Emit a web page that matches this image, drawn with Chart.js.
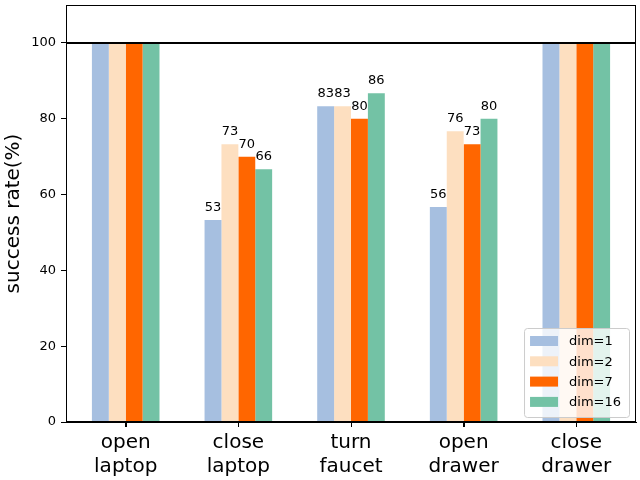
<!DOCTYPE html>
<html>
<head>
<meta charset="utf-8">
<script src="https://cdn.jsdelivr.net/npm/chart.js@4"></script>
<style>
  body { margin: 0; background: #fff; }
  canvas { display: block; }
</style>
</head>
<body>
<canvas id="rateChart" width="640" height="480"></canvas>
<script>
const categories = ['open laptop', 'close laptop', 'turn faucet', 'open drawer', 'close drawer'];
const seriesNames = ['dim=1', 'dim=2', 'dim=7', 'dim=16'];
const dim1 = [100, 53.3, 83.3, 56.7, 100];
const dim2 = [100, 73.3, 83.3, 76.7, 100];
const dim7 = [100, 70.0, 80.0, 73.3, 100];
const dim16 = [100, 66.7, 86.7, 80.0, 100];
const yTicks = [0, 20, 40, 60, 80, 100];
const barColors = ['#a6bfe0', '#fddfc0', '#ff6600', '#73c2a5'];

Chart.defaults.font.family = 'DejaVu Sans';
Chart.defaults.color = '#000';

// frame around the plot, line at 100, value labels
const extras = {
    id: 'extras',
    afterDatasetsDraw(chart) {
        const ctx = chart.ctx;
        const area = chart.chartArea;
        const x = chart.scales.x;
        const y = chart.scales.y;

        ctx.save();
        ctx.font = '13px "DejaVu Sans"';
        ctx.fillStyle = '#000';
        ctx.textAlign = 'center';
        ctx.textBaseline = 'alphabetic';
        chart.data.datasets.forEach((ds, i) => {
            const meta = chart.getDatasetMeta(i);
            meta.data.forEach((bar, j) => {
                const v = ds.data[j].y;
                if (v >= 100) return;
                ctx.fillText(String(Math.trunc(v)), bar.x, bar.y - 9);
            });
        });

        const y100 = y.getPixelForValue(100);
        ctx.strokeStyle = '#000';
        ctx.lineWidth = 2;
        ctx.beginPath();
        ctx.moveTo(area.left, y100);
        ctx.lineTo(area.right, y100);
        ctx.stroke();

        ctx.lineWidth = 1;
        ctx.strokeRect(area.left + 0.5, area.top + 0.5, area.right - area.left - 1, area.bottom - area.top - 1);

        // x tick marks
        x.ticks.forEach(t => {
            const px = Math.round(x.getPixelForValue(t.value)) + 0.5;
            ctx.beginPath();
            ctx.moveTo(px, area.bottom);
            ctx.lineTo(px, area.bottom + 5);
            ctx.stroke();
        });
        ctx.restore();
    },
    afterDraw(chart) {
        const ctx = chart.ctx;
        const area = chart.chartArea;
        ctx.save();
        ctx.font = '13px "DejaVu Sans"';
        let maxW = 0;
        seriesNames.forEach(n => { maxW = Math.max(maxW, ctx.measureText(n).width); });
        const w = 45 + maxW + 8;
        const h = 89;
        const right = area.right - 7;
        const bottom = area.bottom - 5;
        const left = right - w;
        const top = bottom - h;

        ctx.fillStyle = 'rgba(255,255,255,0.8)';
        ctx.strokeStyle = '#cccccc';
        ctx.lineWidth = 1;
        ctx.beginPath();
        ctx.roundRect(left + 0.5, top + 0.5, w, h, 3);
        ctx.fill();
        ctx.stroke();

        ctx.textAlign = 'left';
        ctx.textBaseline = 'middle';
        chart.data.datasets.forEach((ds, i) => {
            const cy = top + 13 + i * 20.3;
            ctx.fillStyle = ds.backgroundColor;
            ctx.fillRect(left + 6, cy - 5, 28, 10);
            ctx.fillStyle = '#000';
            ctx.fillText(ds.label, left + 45, cy + 1);
        });
        ctx.restore();
    }
};

const seriesValues = [dim1, dim2, dim7, dim16];

new Chart(document.getElementById('rateChart').getContext('2d'), {
    type: 'bar',
    data: {
        datasets: seriesValues.map((vals, i) => ({
            label: seriesNames[i],
            data: vals.map((v, j) => ({ x: j, y: v })),
            backgroundColor: barColors[i],
            borderWidth: 0,
            categoryPercentage: 0.6,
            barPercentage: 1.0
        }))
    },
    options: {
        responsive: false,
        animation: false,
        devicePixelRatio: 1,
        layout: { padding: { top: 5, right: 4, left: 0, bottom: 0 } },
        plugins: { legend: { display: false }, tooltip: { enabled: false } },
        scales: {
            x: {
                type: 'linear',
                min: -0.53,
                max: 4.53,
                offset: false,
                afterBuildTicks: axis => { axis.ticks = categories.map((c, i) => ({ value: i })); },
                afterFit: axis => { axis.height = 58; axis.paddingLeft = 0; axis.paddingRight = 0; },
                ticks: {
                    autoSkip: false,
                    maxRotation: 0,
                    padding: 4,
                    font: { size: 20 },
                    callback: value => categories[value] ? categories[value].split(' ') : ''
                },
                grid: { offset: false, drawOnChartArea: false, drawTicks: true, tickLength: 5, color: '#000' },
                border: { display: true, color: '#000' }
            },
            y: {
                min: 0,
                max: 110,
                afterBuildTicks: axis => { axis.ticks = yTicks.map(v => ({ value: v })); },
                afterFit: axis => { axis.width = 66; axis.paddingTop = 0; axis.paddingBottom = 0; },
                ticks: { padding: 5, font: { size: 13 } },
                grid: { drawOnChartArea: false, drawTicks: true, tickLength: 5, color: '#000' },
                border: { display: true, color: '#000' },
                title: { display: true, text: 'success rate(%)', font: { size: 20 }, padding: { top: 2, bottom: 0 } }
            }
        }
    },
    plugins: [extras]
});
</script>
</body>
</html>
